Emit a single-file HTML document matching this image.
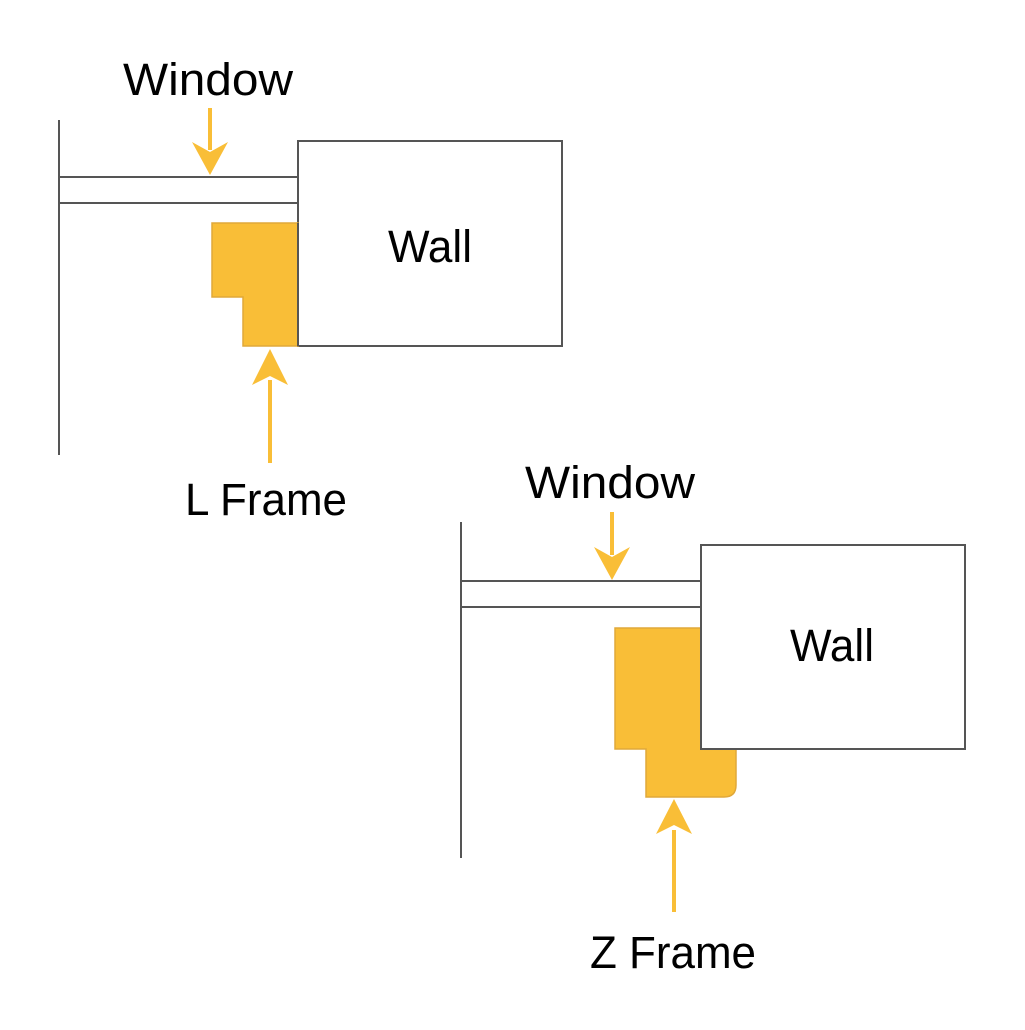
<!DOCTYPE html>
<html><head><style>html,body{margin:0;padding:0;background:#fff}</style></head><body>
<svg width="1025" height="1025" viewBox="0 0 1025 1025" xmlns="http://www.w3.org/2000/svg" font-family="Liberation Sans, sans-serif">
<g stroke="#555" stroke-width="2" fill="none">
<line x1="59" y1="120" x2="59" y2="455"/>
<line x1="59" y1="177" x2="298" y2="177"/>
<line x1="59" y1="203" x2="298" y2="203"/>
<rect x="298" y="141" width="264" height="205" fill="#fff"/>
<line x1="461" y1="522" x2="461" y2="858"/>
<line x1="461" y1="581" x2="701" y2="581"/>
<line x1="461" y1="607" x2="701" y2="607"/>
</g>
<path d="M212 223H298V346H243V297H212Z" fill="#f9be37" stroke="#e0a83a" stroke-width="1.5"/>
<line x1="298" y1="223" x2="298" y2="346" stroke="#555" stroke-width="2"/>
<path d="M615 628H701V749H736V785Q736 797 724 797H646V749H615Z" fill="#f9be37" stroke="#e0a83a" stroke-width="1.5"/>
<rect x="701" y="545" width="264" height="204" fill="#fff" stroke="#555" stroke-width="2"/>
<g fill="#f9be37" stroke="#f9be37" stroke-width="4">
<line x1="210" y1="108" x2="210" y2="150"/>
<line x1="270" y1="463" x2="270" y2="380"/>
<line x1="612" y1="512" x2="612" y2="555"/>
<line x1="674" y1="912" x2="674" y2="830"/>
</g>
<g fill="#f9be37">
<path d="M192 142L210 175L228 142L210 152Z"/>
<path d="M252 385L270 349L288 385L270 376Z"/>
<path d="M594 547L612 580L630 547L612 557Z"/>
<path d="M656 834L674 799L692 834L674 825Z"/>
</g>
<g font-size="45" fill="#000" text-anchor="middle">
<text x="208" y="95" textLength="170" lengthAdjust="spacingAndGlyphs">Window</text>
<text x="430" y="262" textLength="84" lengthAdjust="spacingAndGlyphs">Wall</text>
<text x="266" y="515" textLength="162" lengthAdjust="spacingAndGlyphs">L Frame</text>
<text x="610" y="498" textLength="170" lengthAdjust="spacingAndGlyphs">Window</text>
<text x="832" y="661" textLength="84" lengthAdjust="spacingAndGlyphs">Wall</text>
<text x="673" y="968" textLength="166" lengthAdjust="spacingAndGlyphs">Z Frame</text>
</g>
</svg>
</body></html>
